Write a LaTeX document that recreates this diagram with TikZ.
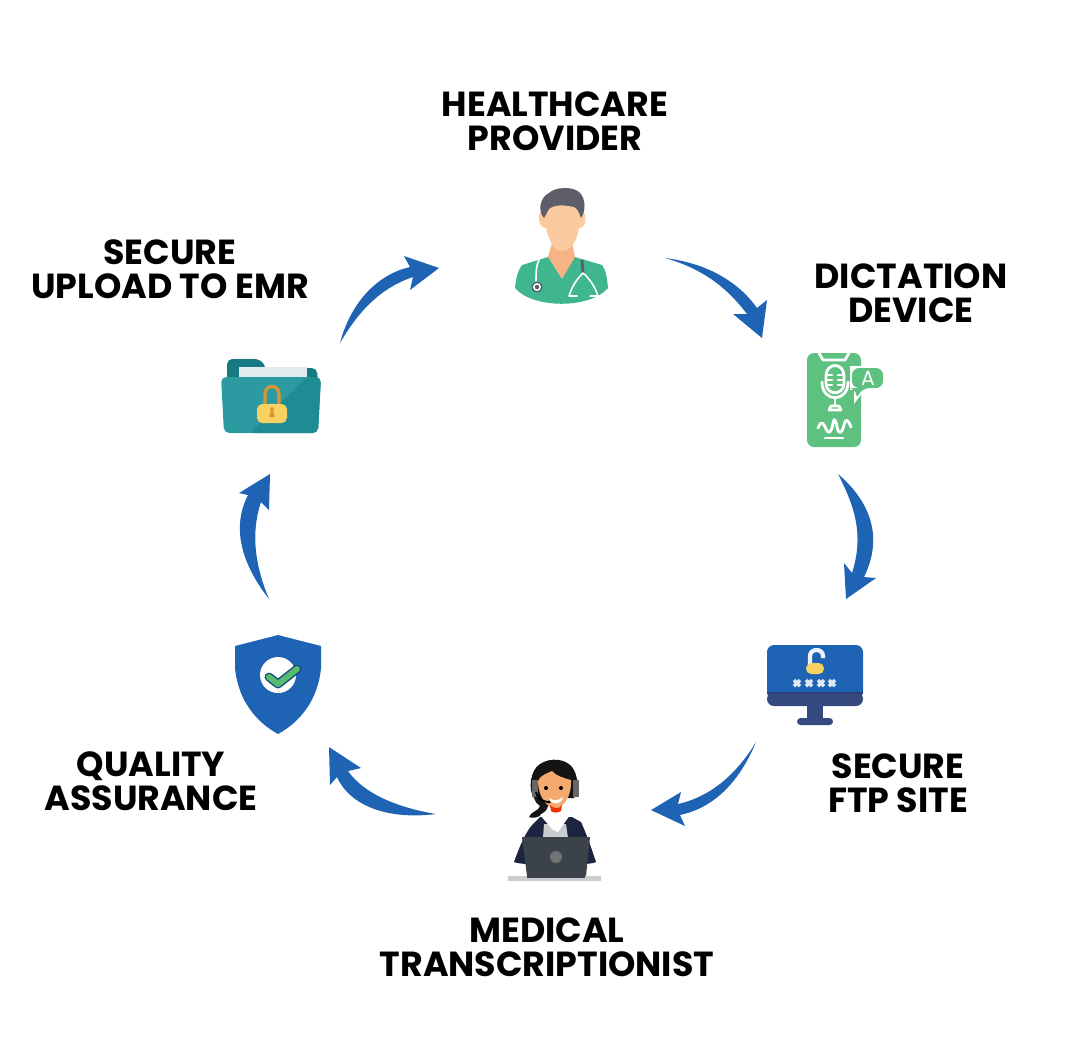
\documentclass[tikz,border=0pt]{standalone}
\usepackage{fontspec}
\setmainfont{Poppins}
\definecolor{arrowblue}{HTML}{1E63B4}
\definecolor{scrubgreen}{HTML}{3FB690}
\definecolor{skinlight}{HTML}{FBCB9F}
\definecolor{skindark}{HTML}{F6B486}
\definecolor{hairgrey}{HTML}{5E5D6A}
\definecolor{phonegreen}{HTML}{5FC17F}
\definecolor{navyband}{HTML}{364A80}
\definecolor{navyline}{HTML}{2A3F76}
\definecolor{lockyellow}{HTML}{F7D262}
\definecolor{lockorange}{HTML}{DB942E}
\definecolor{jacketnavy}{HTML}{1C2440}
\definecolor{laptopgrey}{HTML}{3C4249}
\definecolor{deskgrey}{HTML}{C9CDD0}
\definecolor{faceorange}{HTML}{F4A96E}
\definecolor{tealfront}{HTML}{2B9BA1}
\definecolor{tealshade}{HTML}{1F8C93}
\definecolor{tealback}{HTML}{167A83}
\definecolor{paperwhite}{HTML}{E3EAEE}
\definecolor{checkgreen}{HTML}{55BD6C}
\tikzset{
  steplabel/.style={inner sep=0pt,align=center,text=black,font=\fontsize{9.9}{9.7}\selectfont\bfseries},
  swoosh/.style={fill=arrowblue,draw=none},
  whiteline/.style={draw=white,line width=0.8pt,line cap=round,line join=round},
  thinwhite/.style={draw=white,line width=0.45pt,line cap=round,line join=round},
}
\begin{document}
\begin{tikzpicture}[x=0.01cm,y=-0.01cm]
\useasboundingbox (0,0) rectangle (1080,1053);
\node[steplabel] (provider) at (555,121) {HEALTHCARE\\PROVIDER};
\node[steplabel] (dictation) at (911,293) {DICTATION\\DEVICE};
\node[steplabel] (ftpsite) at (898,783) {SECURE\\FTP SITE};
\node[steplabel] (transcriptionist) at (547,947) {MEDICAL\\TRANSCRIPTIONIST};
\node[steplabel] (quality) at (151,781) {QUALITY\\ASSURANCE};
\node[steplabel] (upload) at (170,269) {SECURE\\UPLOAD TO EMR};

\coordinate (provtail) at (665,258);
\coordinate (provtip) at (762,338);
\coordinate (dicttail) at (838,474);
\coordinate (dicttip) at (846,599);
\coordinate (ftptail) at (756,742);
\coordinate (ftptip) at (651,810);
\coordinate (transtail) at (436,814);
\coordinate (transtip) at (329,747);
\coordinate (qualtail) at (269,599);
\coordinate (qualtip) at (270,474);
\coordinate (uptail) at (340,343);
\coordinate (uptip) at (439,268);

\fill[swoosh] (provtail) .. controls (705,263) and (737,280) .. (757,308) -- (767,300) -- (provtip) -- (733,314) -- (747,314) .. controls (725,285) and (700,268) .. (provtail);
\fill[swoosh] (dicttail) .. controls (865,497) and (886,532) .. (864,577) -- (876,578) -- (dicttip) -- (844,563) -- (852,573) .. controls (864,535) and (855,507) .. (dicttail);
\fill[swoosh] (ftptail) .. controls (738,785) and (712,808) .. (680,815) -- (685,826) -- (ftptip) -- (681,792) -- (678,804) .. controls (705,798) and (733,780) .. (ftptail);
\fill[swoosh] (transtail) .. controls (400,808) and (365,795) .. (348,771) -- (361,768) -- (transtip) -- (330,785) -- (337,777) .. controls (350,806) and (388,820) .. (transtail);
\fill[swoosh] (qualtail) .. controls (244,567) and (230,530) .. (248,495) -- (239,493) -- (qualtip) -- (269,510) -- (261,502) .. controls (250,535) and (256,568) .. (qualtail);
\fill[swoosh] (uptail) .. controls (350,305) and (375,275) .. (410,267) -- (404,256) -- (uptip) -- (410,290) -- (413,277) .. controls (380,288) and (358,312) .. (uptail);

% provider
\fill[scrubgreen] (515,288) .. controls (516,278) and (518,270) .. (522,265) -- (548,257) -- (575,257) -- (602,265) .. controls (606,270) and (607,278) .. (608,288) .. controls (590,309) and (533,309) .. (515,288) -- cycle;
\fill[skindark] (548,257) -- (552,243) -- (572,243) -- (575,257) -- (562,279) -- cycle;
\fill[skinlight] (539,215) .. controls (538,224) and (542,228) .. (546,228) .. controls (549,242) and (555,251) .. (562,251) .. controls (570,251) and (577,242) .. (579,228) .. controls (583,228) and (587,224) .. (585,215) -- (578,200) -- (548,200) -- cycle;
\fill[hairgrey] (544,218) .. controls (538,212) and (539,198) .. (549,193) .. controls (555,187) and (572,186) .. (579,192) .. controls (586,198) and (586,211) .. (581,218) .. controls (579,212) and (577,208) .. (574,207) .. controls (565,205) and (555,204) .. (549,209) .. controls (547,212) and (546,215) .. (544,218) -- cycle;
\draw[thinwhite] (539,260) .. controls (536,266) and (536,272) .. (536,281);
\fill[hairgrey] (537,287) circle (5.5);
\draw[white,line width=0.4pt] (537,287) circle (3.2);
\draw[hairgrey,line width=0.8pt] (582,260) -- (583,273);
\draw[thinwhite] (577,296) -- (569,296) .. controls (572,286) and (577,279) .. (583,273) .. controls (590,279) and (595,287) .. (598,296) -- (590,296);

% dictation device
\fill[phonegreen,rounded corners=2pt] (807,353) rectangle (861,447);
\draw[whiteline] (819,353) -- (823,360) -- (845,360) -- (849,353);
\draw[whiteline] (826,376) .. controls (826,362) and (844,362) .. (844,376) -- (844,383) .. controls (844,396) and (826,396) .. (826,383) -- cycle;
\draw[whiteline] (827,375) -- (832,375) (827,380) -- (832,380) (827,385) -- (832,385);
\draw[whiteline] (838,375) -- (843,375) (838,380) -- (843,380) (838,385) -- (843,385);
\draw[whiteline] (822,382) .. controls (822,403) and (848,403) .. (848,382);
\draw[whiteline] (835,398) -- (835,405);
\draw[whiteline] (831,406) -- (839,406) -- (841,410) -- (829,410) -- cycle;
\draw[whiteline] (818,428) .. controls (822,418) and (824,425) .. (826,429) .. controls (828,433) and (830,434) .. (832,428) .. controls (834,417) and (835,417) .. (837,427) .. controls (839,436) and (842,433) .. (844,425) .. controls (846,417) and (848,420) .. (851,427);
\draw[whiteline] (825,438) -- (843,438);
\fill[white] (850,366) rectangle (885,390);
\fill[white] (854,388) -- (854,404) -- (866,388) -- cycle;
\fill[phonegreen,rounded corners=2pt] (852,368) -- (883,368) -- (883,388) -- (862,388) -- (856,400) -- (856,388) -- (852,388) -- cycle;
\node[inner sep=0pt,text=white,font=\fontsize{5.8}{6}\selectfont] (letterA) at (868,378) {A};

% ftp site
\fill[arrowblue,rounded corners=2pt] (767,645) rectangle (863,699);
\fill[navyband,rounded corners=2pt] (767,692) rectangle (863,706);
\fill[navyline] (767,692) rectangle (863,694);
\fill[navyband] (807,706) rectangle (823,719);
\fill[navyband,rounded corners=1pt] (797,718) rectangle (833,725);
\draw[white!92!arrowblue,line width=1.2pt] (810,664) -- (810,656) .. controls (810,648) and (823,648) .. (823,656) -- (823,658);
\fill[lockyellow,rounded corners=1.5pt] (806,663) rectangle (824,674);
\foreach \starx in {797,809,821,832}{
  \draw[white!85!arrowblue,line width=1pt] (\starx-3,680) -- (\starx+3,686) (\starx-3,686) -- (\starx+3,680);
}

% transcriptionist
\fill[black!92] (534,798) .. controls (528,790) and (530,770) .. (540,764) .. controls (550,757) and (568,758) .. (574,770) .. controls (579,780) and (578,792) .. (574,798) -- cycle;
\fill[black!92] (537,788) .. controls (531,795) and (534,802) .. (540,806) .. controls (539,811) and (531,811) .. (529,817) .. controls (537,820) and (548,813) .. (549,802) -- cycle;
\fill[jacketnavy] (514,862) .. controls (520,845) and (526,832) .. (532,825) -- (540,817) -- (572,817) -- (581,822) .. controls (587,835) and (592,850) .. (596,862) .. controls (590,866) and (522,866) .. (514,862) -- cycle;
\fill[deskgrey] (544,824) -- (566,824) -- (568,838) -- (543,838) -- cycle;
\fill[white] (540,815) -- (553,830) -- (558,832) -- (570,815) -- (564,811) -- (546,811) -- cycle;
\fill[faceorange] (538,781) .. controls (540,775) and (548,773) .. (552,771) .. controls (556,776) and (564,778) .. (571,780) .. controls (572,795) and (564,808) .. (555,808) .. controls (546,808) and (538,795) .. (538,781) -- cycle;
\fill[red!60!orange!95!black] (550,805) .. controls (554,809) and (559,809) .. (562,805) -- (561,811) .. controls (558,813) and (553,813) .. (551,811) -- cycle;
\fill[white] (549,798) .. controls (554,801) and (558,801) .. (563,797) .. controls (562,805) and (551,806) .. (549,798) -- cycle;
\fill[black] (546,788) circle (2);
\fill[black] (561,788) circle (2);
\draw[gray!80!black,line width=1.6pt] (535,797) -- (535,780) (576,797) -- (576,780);
\draw[black,line width=0.5pt] (536,792) .. controls (538,800) and (543,801) .. (548,802);
\fill[black] (549,802) circle (1.7);
\fill[laptopgrey] (522,837) -- (590,837) -- (586,876) -- (527,876) -- cycle;
\fill[gray!80!laptopgrey] (556,857) circle (6);
\fill[deskgrey] (508,876) rectangle (601,881);
\fill[laptopgrey] (527,874) rectangle (585,878);

% quality assurance
\fill[arrowblue] (278,635) -- (321,646) -- (321,668) .. controls (318,700) and (300,722) .. (278,734) .. controls (256,722) and (238,700) .. (235,668) -- (235,646) -- cycle;
\fill[white] (278,675) circle (18);
\draw[arrowblue!70!black,line width=2.5pt,line cap=round,line join=round] (269,677) -- (278,684) -- (297,669);
\draw[checkgreen,line width=1.7pt,line cap=round,line join=round] (269,677) -- (278,684) -- (297,669);

% secure upload
\fill[tealback,rounded corners=1.5pt] (227,385) -- (227,359) -- (260,359) -- (266,367) -- (266,385) -- cycle;
\fill[tealback,rounded corners=1.5pt] (300,385) -- (300,368) -- (317,368) -- (318,385) -- cycle;
\fill[paperwhite] (239,367) rectangle (307,380);
\fill[tealfront,rounded corners=1.5pt] (221,377) -- (321,377) -- (318,433) -- (224,433) -- cycle;
\fill[tealshade,rounded corners=1.5pt] (307,377) -- (321,377) -- (318,433) -- (250,433) -- cycle;
\draw[lockorange,line width=0.9pt] (265,405) -- (265,394) .. controls (265,384) and (279,384) .. (279,394) -- (279,405);
\fill[lockyellow,rounded corners=1.5pt] (257,404) rectangle (287,423);
\fill[lockorange] (272,409) circle (2);
\fill[lockorange] (271,410) -- (273,410) -- (275,417) -- (269,417) -- cycle;
\end{tikzpicture}
\end{document}
